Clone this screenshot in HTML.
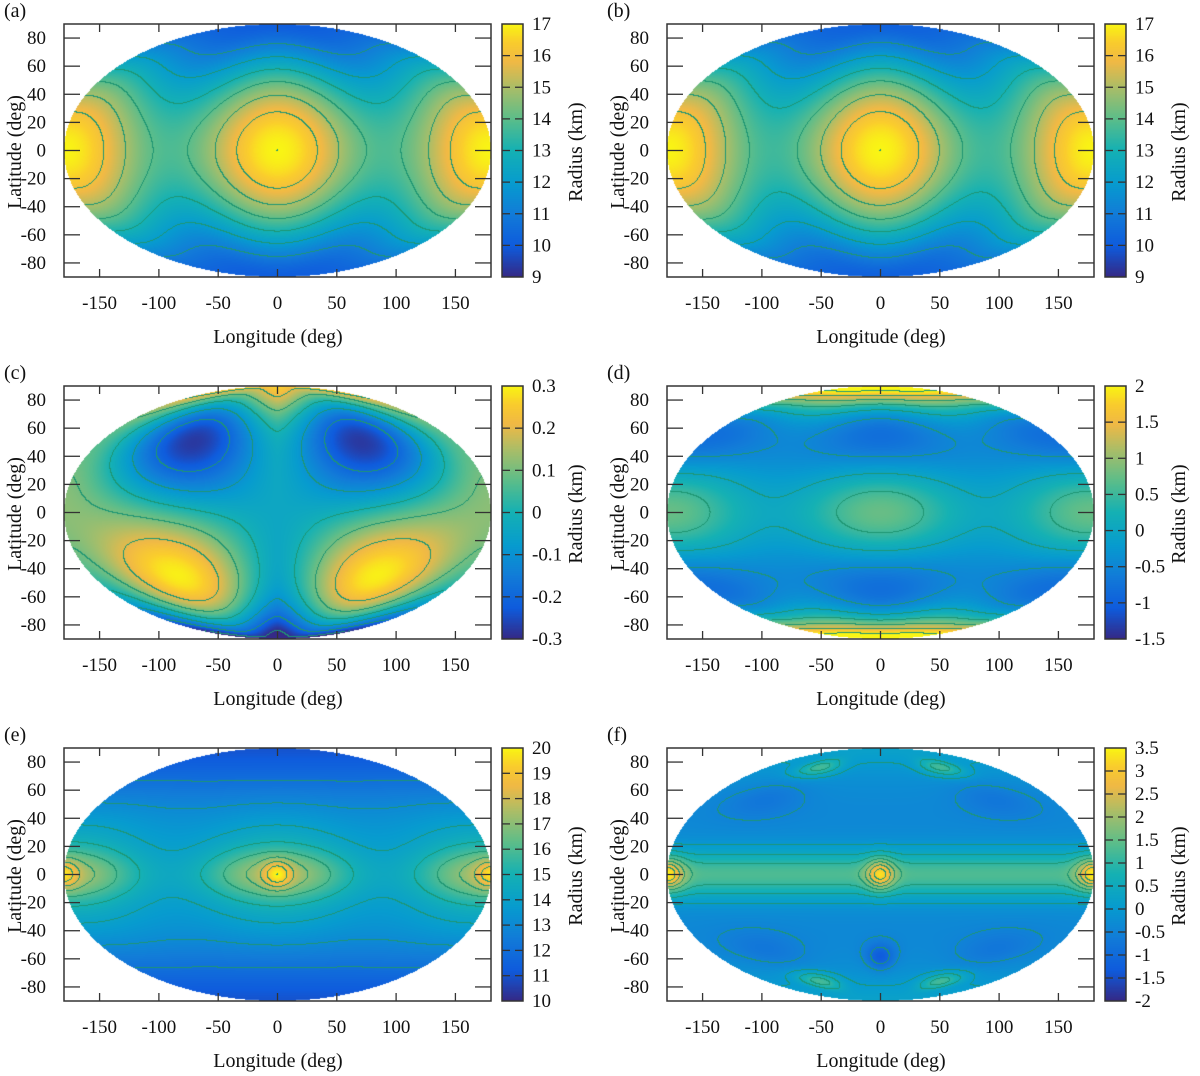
<!DOCTYPE html>
<html><head><meta charset="utf-8">
<style>
body{margin:0;background:#fff;width:1200px;height:1076px;overflow:hidden;font-family:"Liberation Serif",serif;}
#root{position:relative;width:1200px;height:1076px;}
svg{position:absolute;left:0;top:0;font-family:"Liberation Serif",serif;}
canvas{position:absolute;}
</style></head>
<body><div id="root"></div>
<script>
// axis tick data
const lonTicks=[-150,-100,-50,0,50,100,150];
const latTicks=[-80,-60,-40,-20,0,20,40,60,80];
const panelLabels=["(a)","(b)","(c)","(d)","(e)","(f)"];
const cbMin=[9,9,-0.3,-1.5,10,-2];
const cbMax=[17,17,0.3,2,20,3.5];
const cbTicksA=[9,10,11,12,13,14,15,16,17];
const cbTicksC=[-0.3,-0.2,-0.1,0,0.1,0.2,0.3];
const cbTicksD=[-1.5,-1,-0.5,0,0.5,1,1.5,2];
const cbTicksE=[10,11,12,13,14,15,16,17,18,19,20];
const cbTicksF=[-2,-1.5,-1,-0.5,0,0.5,1,1.5,2,2.5,3,3.5];
const contourStep=[1,1,0.1,0.5,1,0.5];
// field coefficients per panel
const coefA=[15.4,-5.4,1.6];
const coefB=[15.3,-5.2,1.7];
const coefC=[-0.3,0.3,-0.04,0.16];
const coefD=[0.4,0.35,-1.4,2.0];
const coefE=[11,3.5,0.6,1.5,1.0,2.4];
const coefF=[-0.4,1.7,2.0,2.2,-1.0,1.3,0.6];

const D=Math.PI/180;
function g(x){return Math.exp(-x*x);}
const fields=[
 (lo,la)=>{const s=Math.sin(la*D),c=Math.cos(la*D);return coefA[0]+coefA[1]*s*s+coefA[2]*c*c*Math.cos(2*lo*D);},
 (lo,la)=>{const s=Math.sin(la*D),c=Math.cos(la*D);return coefB[0]+coefB[1]*s*s+coefB[2]*c*c*Math.cos(2*lo*D);},
 (lo,la)=>{const s=Math.sin(la*D),c=Math.cos(la*D),sl=Math.sin(lo*D);return coefC[0]*Math.sin(2*la*D)*Math.pow(Math.abs(sl),1.5)+coefC[1]*Math.pow(s,7)+coefC[2]+coefC[3]*c*c*(1-Math.cos(lo*D))/2;},
 (lo,la)=>{const s=Math.sin(la*D),c=Math.cos(la*D),c2=Math.cos(2*lo*D);return coefD[0]+coefD[1]*c*c*c2+coefD[2]*Math.pow(Math.sin(2*la*D),2)*(0.75+0.25*c2)+coefD[3]*Math.pow(s,16);},
 (lo,la)=>{const c=Math.cos(la*D),c2=Math.cos(2*lo*D),b=g(la/14);return coefE[0]+coefE[1]*c*c+coefE[2]*c2*Math.pow(c,6)+coefE[3]*b+coefE[4]*b*c2+coefE[5]*g(Math.hypot(la/8,lo/12))+coefE[5]*g(Math.hypot(la/8,(Math.abs(lo)-180)/12))*0.9;},
 (lo,la)=>{const al=Math.abs(lo);return coefF[0]+coefF[1]*g(la/14)+coefF[2]*g(Math.hypot(la/9,lo/12))+coefF[3]*g(Math.hypot(la/9,(al-180)/14))+coefF[4]*g(Math.hypot((la+50)/9,lo/16))+coefF[5]*g(Math.hypot((Math.abs(la)-68)/7,(al-95)/30))+coefF[6]*Math.pow(Math.sin(la*D),8)-0.4*g(Math.hypot((Math.abs(la)-45)/12,(al-120)/40));}
];
const cbTicks=[cbTicksA,cbTicksA,cbTicksC,cbTicksD,cbTicksE,cbTicksF];

const stops=[[0,53,42,135],[0.12,15,92,221],[0.25,18,125,216],[0.37,7,156,207],[0.5,21,177,180],[0.62,89,189,140],[0.74,165,190,107],[0.85,240,185,70],[0.93,250,205,45],[1,249,245,20]];
function cmap(t){t=Math.max(0,Math.min(1,t));for(let i=1;i<stops.length;i++){if(t<=stops[i][0]){const a=stops[i-1],b=stops[i],f=(t-a[0])/(b[0]-a[0]);return [a[1]+f*(b[1]-a[1]),a[2]+f*(b[2]-a[2]),a[3]+f*(b[3]-a[3])];}}return stops[stops.length-1].slice(1);}

const root=document.getElementById('root');
const NS="http://www.w3.org/2000/svg";
const svg=document.createElementNS(NS,'svg');svg.setAttribute('width',1200);svg.setAttribute('height',1076);
svg.setAttribute('font-family','Liberation Serif, serif');


function el(tag,attrs,parent,text){const e=document.createElementNS(NS,tag);for(const k in attrs)e.setAttribute(k,attrs[k]);if(text!==undefined)e.textContent=text;parent.appendChild(e);return e;}

const PW=427,PH=253;
for(let p=0;p<6;p++){
 const ox=(p%2)*603, oy=Math.floor(p/2)*362;
 const X0=ox+64,Y0=oy+24;
 const cx=PW/2,cy=PH/2,a=PW/2,b=PH/2;
 const xs=lo=>X0+cx+lo/180*a;
 const ys=la=>Y0+cy-la/90*b;
 const cv=document.createElement('canvas');cv.width=PW;cv.height=PH;cv.style.left=X0+'px';cv.style.top=Y0+'px';
 
 
 root.appendChild(cv);
 const ctx=cv.getContext('2d');const img=ctx.createImageData(PW,PH);
 const f=fields[p],mn=cbMin[p],mx=cbMax[p],st=contourStep[p];
 const vals=new Float32Array(PW*PH).fill(NaN);
 for(let y=0;y<PH;y++)for(let x=0;x<PW;x++){
  const X=(x+0.5-cx)/a,Y=(cy-y-0.5)/b;if(X*X+Y*Y>1)continue;
  const th=Math.asin(Math.max(-1,Math.min(1,Y)));
  const la=Math.asin(Math.max(-1,Math.min(1,(2*th+Math.sin(2*th))/Math.PI)))/D;
  const lo=X*180/Math.max(Math.cos(th),1e-3);if(Math.abs(lo)>180)continue;
  vals[y*PW+x]=f(lo,la);
 }
 for(let y=0;y<PH;y++)for(let x=0;x<PW;x++){
  const v=vals[y*PW+x];if(isNaN(v))continue;
  let c=cmap((v-mn)/(mx-mn));
  const k=Math.floor(v/st+1e-6);
  const vr=x+1<PW?vals[y*PW+x+1]:NaN,vd=y+1<PH?vals[(y+1)*PW+x]:NaN;
  if((!isNaN(vr)&&Math.floor(vr/st+1e-6)!==k)||(!isNaN(vd)&&Math.floor(vd/st+1e-6)!==k))c=[30,150,115];
  const i=(y*PW+x)*4;img.data[i]=c[0];img.data[i+1]=c[1];img.data[i+2]=c[2];img.data[i+3]=255;
 }
 ctx.putImageData(img,0,0);
 const cb=document.createElement('canvas');cb.width=21;cb.height=PH;cb.style.left=(ox+502)+'px';cb.style.top=Y0+'px';
 
 
 root.appendChild(cb);
 const cc=cb.getContext('2d');
 for(let y=0;y<PH;y++){const c=cmap(1-y/(PH-1));cc.fillStyle=`rgb(${c[0]|0},${c[1]|0},${c[2]|0})`;cc.fillRect(0,y,21,1);}
 const grp=el('g',{},svg);
 
 
 el('rect',{x:X0,y:Y0,width:PW,height:PH,fill:'none',stroke:'#333','stroke-width':1.5},grp);
 el('rect',{x:ox+502,y:Y0,width:21,height:PH,fill:'none',stroke:'#333','stroke-width':1.5},grp);
 lonTicks.forEach(t=>{const x=xs(t);el('line',{x1:x,x2:x,y1:Y0+PH,y2:Y0+PH-8,stroke:'#333','stroke-width':1.3},grp);el('line',{x1:x,x2:x,y1:Y0,y2:Y0+8,stroke:'#333','stroke-width':1.3},grp);
  const tx=el('text',{x:x,y:oy+309,'font-size':19,'text-anchor':'middle',fill:'#111'},grp,String(t));});
 latTicks.forEach(t=>{const y=ys(t);el('line',{x1:X0,x2:X0+16,y1:y,y2:y,stroke:'#333','stroke-width':1.3},grp);el('line',{x1:X0+PW,x2:X0+PW-16,y1:y,y2:y,stroke:'#333','stroke-width':1.3},grp);
  const tx=el('text',{x:ox+46,y:y+6,'font-size':19,'text-anchor':'end',fill:'#111'},grp,String(t));});
 cbTicks[p].forEach(t=>{const y=Y0+PH-(t-mn)/(mx-mn)*PH;
  if(t>mn&&t<mx){el('line',{x1:ox+502,x2:ox+510,y1:y,y2:y,stroke:'#333','stroke-width':1.3},grp);el('line',{x1:ox+515,x2:ox+523,y1:y,y2:y,stroke:'#333','stroke-width':1.3},grp);}
  const tx=el('text',{x:ox+532,y:y+6,'font-size':19,fill:'#111'},grp,String(t));});
 const xl=el('text',{x:ox+278,y:oy+343,'font-size':20,'text-anchor':'middle',fill:'#111'},grp,'Longitude (deg)');
 
 const yl=el('text',{x:0,y:0,'font-size':20,'text-anchor':'middle',fill:'#111',transform:`translate(${ox+21},${oy+152}) rotate(-90)`},grp,'Latitude (deg)');
 
 const cl=el('text',{x:0,y:0,'font-size':20,'text-anchor':'middle',fill:'#111',transform:`translate(${ox+582},${oy+152}) rotate(-90)`},grp,'Radius (km)');
 
 const pl=el('text',{x:ox+4,y:oy+17,'font-size':20,fill:'#111'},grp,panelLabels[p]);
 
}
root.appendChild(svg);
</script>
</body></html>
